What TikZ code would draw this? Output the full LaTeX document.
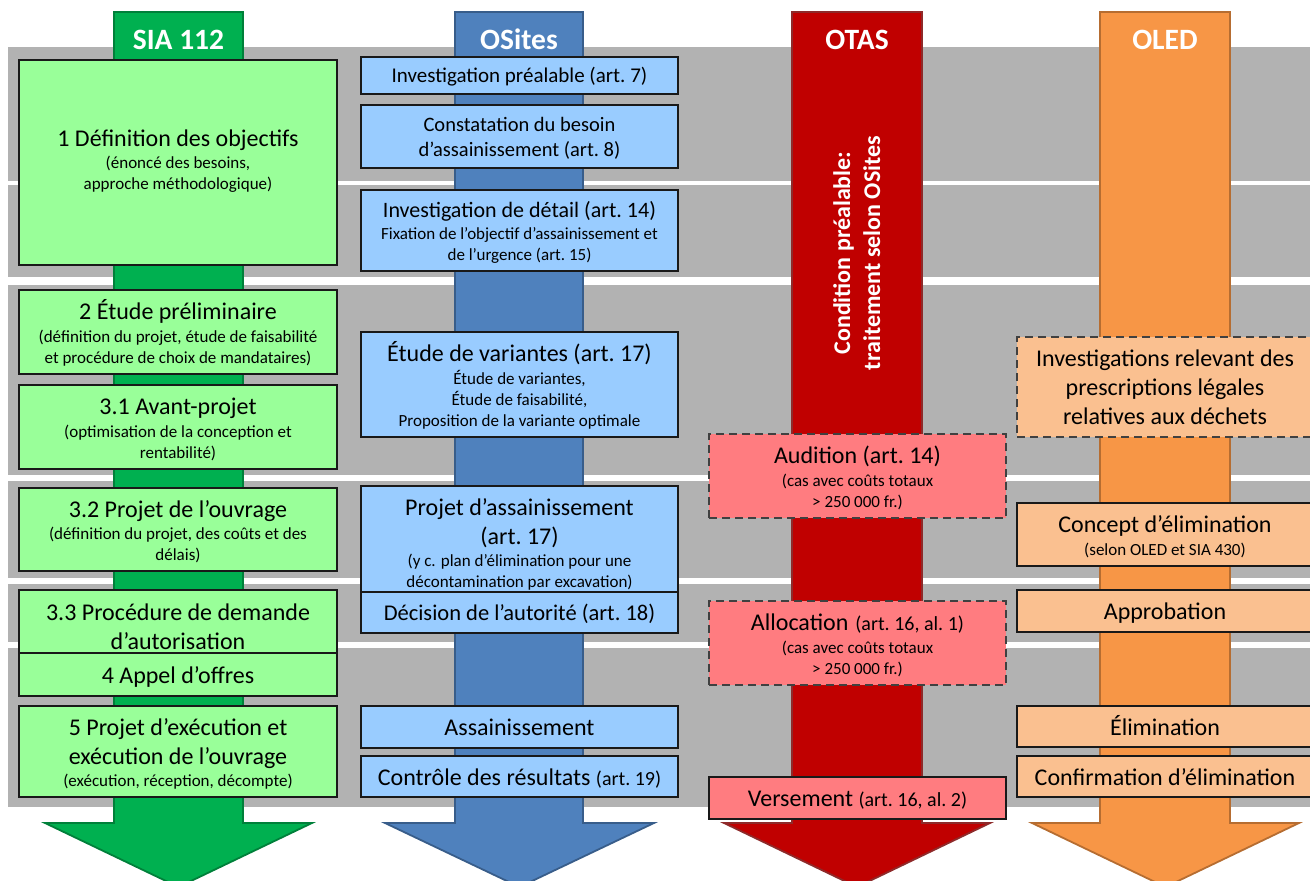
\documentclass[tikz,border=0pt]{standalone}
\usepackage{fontspec}
\setmainfont{Carlito}
\definecolor{grayband}{HTML}{B2B2B2}
\definecolor{siaA}{HTML}{00B050}
\definecolor{siaB}{HTML}{00803A}
\definecolor{siaBox}{HTML}{99FF99}
\definecolor{osA}{HTML}{4F81BD}
\definecolor{osB}{HTML}{385D8A}
\definecolor{osBox}{HTML}{99CCFF}
\definecolor{otA}{HTML}{C00000}
\definecolor{otB}{HTML}{8E2A2A}
\definecolor{otBox}{HTML}{FF7C80}
\definecolor{olA}{HTML}{F79646}
\definecolor{olB}{HTML}{B66D31}
\definecolor{olBox}{HTML}{FAC090}
\newcommand{\stk}[1]{\vbox{\baselineskip=0pt\lineskip=0pt\lineskiplimit=0pt\halign{\hfil##\hfil\cr#1\crcr}}}
\newcommand{\lL}{\fontsize{24}{29}\selectfont\rule[-6pt]{0pt}{29pt}}
\newcommand{\lS}{\fontsize{17}{21}\selectfont\rule[-4.3pt]{0pt}{21pt}}
\newcommand{\lM}[3]{\fontsize{#1}{#2}\selectfont\rule[-#3pt]{0pt}{#2pt}}
\newcommand{\lB}{\fontsize{24}{30}\selectfont\bfseries\rule[-7pt]{0pt}{30pt}}
\newcommand{\sm}[1]{{\fontsize{20}{24}\selectfont #1}}
\newcommand{\bx}[7]{\node[#6, minimum width={(#4-#2)*1pt}, minimum height={(#5-#3)*1pt}] (#1) at ({(#2+#4)/2},{(#3+#5)/2}) {#7};}
\tikzset{
  boxbase/.style={draw=black!90, line width=1.4pt, inner sep=0pt, anchor=center},
  siabox/.style={boxbase, fill=siaBox},
  osbox/.style={boxbase, fill=osBox},
  otbox/.style={boxbase, fill=otBox},
  olbox/.style={boxbase, fill=olBox},
  dashbox/.style={draw=black!75, dash pattern=on 8pt off 5pt},
  hdr/.style={font=\fontsize{29.5}{35}\selectfont\bfseries, text=white, anchor=base, inner sep=0pt},
  bigarrow/.style={line width=1.8pt, line join=miter},
  sep/.style={fill=white}
}
\begin{document}
\begin{tikzpicture}[x=1pt,y=-1pt]
\useasboundingbox (0,0) rectangle (1310,881);
% gray bands
\fill[grayband] (8,47) rectangle (1320,807);
\fill[sep] (8,181) rectangle (1320,185);
\fill[sep] (8,277) rectangle (1320,285);
\fill[sep] (8,475) rectangle (1320,481);
\fill[sep] (8,578) rectangle (1320,584);
\fill[sep] (8,642) rectangle (1320,648);
% big arrows
\draw[bigarrow, fill=siaA, draw=siaB] (114,12) -- (243,12) -- (243,823) -- (312,823) -- (178.5,887) -- (45,823) -- (114,823) -- cycle;
\draw[bigarrow, fill=osA, draw=osB] (455,12) -- (583,12) -- (583,823) -- (654,823) -- (519.5,887) -- (385,823) -- (455,823) -- cycle;
\draw[bigarrow, fill=otA, draw=otB] (792,12) -- (922,12) -- (922,823) -- (990,823) -- (857,887) -- (724,823) -- (792,823) -- cycle;
\draw[bigarrow, fill=olA, draw=olB] (1100,12) -- (1230,12) -- (1230,823) -- (1299,823) -- (1165.5,887) -- (1032,823) -- (1100,823) -- cycle;
% headers
\node[hdr] (hSIA) at (178.5,49) {SIA 112};
\node[hdr] (hOS) at (519,49) {OSites};
\node[hdr] (hOT) at (857,49) {OTAS};
\node[hdr] (hOL) at (1165,49) {OLED};
\node[rotate=90, text=white, inner sep=0pt] (cond) at (857,253) {\stk{\lB Condition préalable:\cr\lB traitement selon OSites\cr}};
% SIA 112
\bx{s1}{19}{60}{337}{265}{siabox}{\stk{\lL 1 Définition des objectifs\cr\lS (énoncé des besoins,\cr\lS approche méthodologique)\cr\noalign{\kern8pt}}}
\bx{s2}{19}{290}{337}{374}{siabox}{\stk{\lL 2 Étude préliminaire\cr\lS (définition du projet, étude de faisabilité\cr\lS et procédure de choix de mandataires)\cr}}
\bx{s31}{19}{385}{337}{469}{siabox}{\stk{\lL 3.1 Avant-projet\cr\lS (optimisation de la conception et\cr\lS rentabilité)\cr}}
\bx{s32}{19}{488}{337}{571}{siabox}{\stk{\lL 3.2 Projet de l’ouvrage\cr\lS (définition du projet, des coûts et des\cr\lS délais)\cr}}
\bx{s33}{19}{592}{337}{653}{siabox}{\stk{\noalign{\kern7pt}\lL 3.3 Procédure de demande\cr\lL d’autorisation\cr}}
\bx{s4}{19}{653}{337}{696}{siabox}{\stk{\lL 4 Appel d’offres\cr}}
\bx{s5}{19}{706}{337}{797}{siabox}{\stk{\lL 5 Projet d’exécution et\cr\lL exécution de l’ouvrage\cr\lS (exécution, réception, décompte)\cr}}
% OSites
\bx{o1}{361}{57}{678}{94}{osbox}{\stk{\lM{21}{25.4}{5.3}Investigation préalable (art.~7)\cr}}
\bx{o2}{361}{105}{678}{168}{osbox}{\stk{\lM{20.5}{24.8}{5.2}Constatation du besoin\cr\lM{20.5}{24.8}{5.2}d’assainissement (art.~8)\cr}}
\bx{o3}{361}{190}{678}{271}{osbox}{\stk{\lM{22}{26.6}{5.5}Investigation de détail (art.~14)\cr\lS Fixation de l’objectif d’assainissement et\cr\lS de l’urgence (art.~15)\cr}}
\bx{o4}{361}{332}{678}{437}{osbox}{\stk{\lL Étude de variantes (art.~17)\cr\lS Étude de variantes,\cr\lS Étude de faisabilité,\cr\lS Proposition de la variante optimale\cr}}
\bx{o5}{361}{487}{678}{591}{osbox}{\stk{\noalign{\kern6pt}\lL Projet d’assainissement\cr\lL (art.~17)\cr\lS (y~c. plan d’élimination pour une\cr\lS décontamination par excavation)\cr}}
\bx{o6}{361}{592}{678}{633}{osbox}{\stk{\lM{22.5}{27.2}{5.6}Décision de l’autorité (art.~18)\cr}}
\bx{o7}{361}{706}{678}{748}{osbox}{\stk{\lL Assainissement\cr}}
\bx{o8}{361}{756}{678}{797}{osbox}{\stk{\lL Contrôle des résultats \sm{(art.~19)}\cr}}
% OTAS
\bx{a1}{709}{434}{1006}{518}{otbox,dashbox}{\stk{\lL Audition (art.~14)\cr\lS (cas avec coûts totaux\cr\lS >~250~000 fr.)\cr}}
\bx{a2}{709}{601}{1006}{685}{otbox,dashbox}{\stk{\lL Allocation\hspace{7pt}\sm{(art.~16, al.~1)}\cr\lS (cas avec coûts totaux\cr\lS >~250~000 fr.)\cr}}
\bx{a3}{709}{777}{1006}{819}{otbox}{\stk{\lL Versement \sm{(art.~16, al.~2)}\cr}}
% OLED
\bx{l1}{1017}{337}{1313}{437}{olbox,dashbox}{\stk{\lL Investigations relevant des\cr\lL prescriptions légales\cr\lL relatives aux déchets\cr}}
\bx{l2}{1017}{503}{1313}{566}{olbox}{\stk{\lL Concept d’élimination\cr\lS (selon OLED et SIA 430)\cr}}
\bx{l3}{1017}{590}{1313}{632}{olbox}{\stk{\lL Approbation\cr}}
\bx{l4}{1017}{706}{1313}{747}{olbox}{\stk{\lL Élimination\cr}}
\bx{l5}{1017}{756}{1313}{797}{olbox}{\stk{\lL Confirmation d’élimination\cr}}
\end{tikzpicture}
\end{document}
